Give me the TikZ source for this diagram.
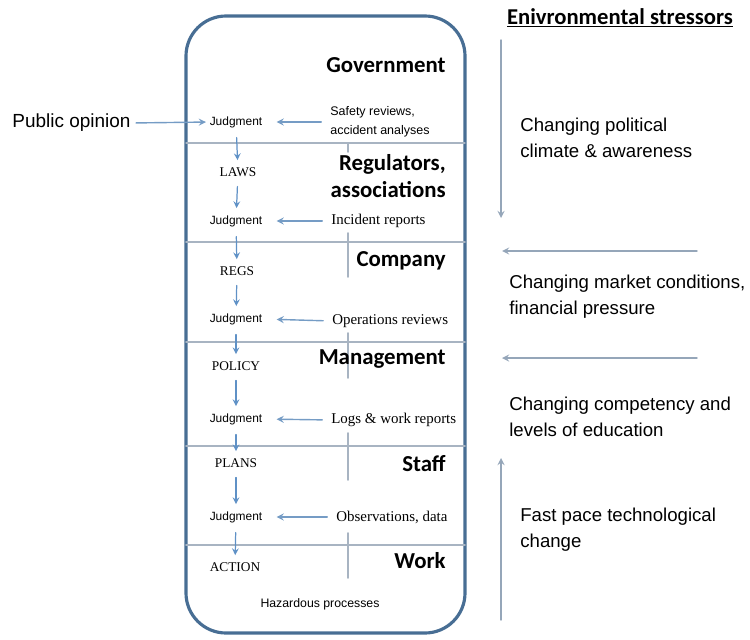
\documentclass[tikz,border=0pt]{standalone}
\usepackage{fontspec}
\setmainfont{Liberation Serif}
\setsansfont{Liberation Sans}
\newfontfamily\calibri{Carlito}
\definecolor{boxblue}{RGB}{72,110,148}
\definecolor{sepgray}{RGB}{168,180,194}
\definecolor{arrowblue}{RGB}{95,145,198}
\begin{document}
\begin{tikzpicture}[x=0.02cm,y=-0.02cm,>=stealth, line join=round, line cap=round,
    title/.style={font=\calibri\bfseries\fontsize{13}{15}\selectfont, anchor=east, align=right, inner sep=0pt},
    judg/.style={font=\sffamily\fontsize{6.8}{8}\selectfont, inner sep=0pt},
    rule/.style={font=\rmfamily\fontsize{7.6}{9}\selectfont, inner sep=0pt},
    src/.style={font=\rmfamily\fontsize{8.5}{10}\selectfont, anchor=west, inner sep=0pt},
    stress/.style={font=\sffamily\fontsize{10.6}{14.7}\selectfont, anchor=west, align=left, inner sep=0pt},
    flow/.style={->, arrowblue, line width=0.7pt, shorten <=5.5pt, shorten >=4pt},
    feed/.style={->, arrowblue!70!sepgray, line width=0.8pt, shorten <=5pt, shorten >=8pt},
    sep/.style={sepgray, line width=1pt}]
    \useasboundingbox (0,0) rectangle (750,639);
    % the rounded box and its layers
    \draw[boxblue, line width=1.8pt, rounded corners=0.8cm] (186,16) rectangle (465,633);
    \draw[sep, line width=0.7pt] (186,143)--(465,143);
    \foreach \y in {242,342,446,545} \draw[sep] (186,\y)--(465,\y);
    \draw[sep] (348,143)--(348,152) (348,233)--(348,277) (348,333)--(348,378) (348,433)--(348,480) (348,533)--(348,578);
    % layer titles
    \node[title] (gov) at (446,65) {Government};
    \node[title] (reg) at (446,176) {Regulators,\\associations};
    \node[title] (comp) at (446,261) {Company};
    \node[title] (mgmt) at (446,359) {Management};
    \node[title] (staff) at (446,464) {Staff};
    \node[title] (work) at (446,561) {Work};
    % left column
    \node[judg] (j1) at (236,122) {Judgment};
    \node[rule] (laws) at (238,172) {LAWS};
    \node[judg] (j2) at (236,221) {Judgment};
    \node[rule] (regs) at (237,271) {REGS};
    \node[judg] (j3) at (236,319) {Judgment};
    \node[rule] (policy) at (236,366) {POLICY};
    \node[judg] (j4) at (236,419) {Judgment};
    \node[rule] (plans) at (236,463) {PLANS};
    \node[judg] (j5) at (236,517) {Judgment};
    \node[rule] (action) at (235,567) {ACTION};
    \draw[flow] (j1)--(laws);
    \draw[flow] (laws)--(j2);
    \draw[flow] (j2)--(regs);
    \draw[flow] (regs)--(j3);
    \draw[flow] (j3)--(policy);
    \draw[flow] (policy)--(j4);
    \draw[flow] (j4)--(plans);
    \draw[flow] (plans)--(j5);
    \draw[flow] (j5)--(action);
    % feedback
    \node[src, font=\sffamily\fontsize{7.1}{10.8}\selectfont, align=left] (s1) at (330,122) {Safety reviews,\\accident analyses};
    \node[src] (s2) at (331,221) {Incident reports};
    \node[src] (s3) at (332,321) {Operations reviews};
    \node[src] (s4) at (331,420) {Logs \& work reports};
    \node[src] (s5) at (336,517) {Observations, data};
    \draw[feed] (s1.west)--(j1.east);
    \draw[feed] (s2.west)--(j2.east);
    \draw[feed] (s3.west)--(j3.east);
    \draw[feed] (s4.west)--(j4.east);
    \draw[feed] (s5.west)--(j5.east);
    \node[font=\sffamily\fontsize{7}{8}\selectfont] (haz) at (320,604) {Hazardous processes};
    \node[font=\sffamily\fontsize{10.8}{13}\selectfont, anchor=west, inner sep=0pt] (pub) at (12,123) {Public opinion};
    \draw[feed, shorten <=3pt, shorten >=2pt] (pub.east)--(j1.west);
    % environmental stressors
    \node[font=\calibri\bfseries\fontsize{12.9}{14}\selectfont, inner sep=0pt] (env) at (620,18) {\underline{Enivronmental stressors}};
    \coordinate (a1) at (501,40);  \coordinate (b1) at (501,218);
    \coordinate (a2) at (697,251); \coordinate (b2) at (502,251);
    \coordinate (a3) at (697,358); \coordinate (b3) at (502,358);
    \coordinate (a4) at (501,620); \coordinate (b4) at (501,458);
    \foreach \i in {1,...,4} \draw[->, sepgray!80!boxblue, line width=0.8pt] (a\i)--(b\i);
    \node[stress] (pol) at (520,138) {Changing political\\climate \& awareness};
    \node[stress] (mkt) at (509,297) {Changing market conditions,\\financial pressure};
    \node[stress] (edu) at (509,417) {Changing competency and\\levels of education};
    \node[stress] (tech) at (520,530) {Fast pace technological\\change};
\end{tikzpicture}
\end{document}
